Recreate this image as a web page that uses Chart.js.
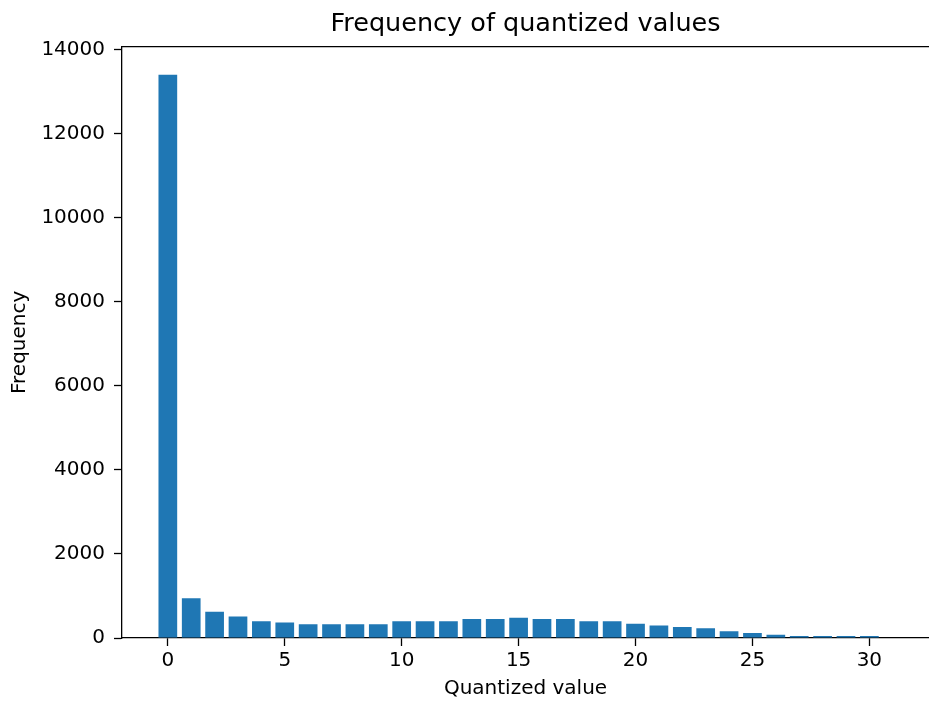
<!DOCTYPE html>
<html>
<head>
<meta charset="utf-8">
<script src="https://cdn.jsdelivr.net/npm/chart.js@4"></script>
<style>
  html, body { margin: 0; padding: 0; background: #fff; }
  #wrap { width: 929px; height: 702px; }
</style>
</head>
<body>
<div id="wrap"><canvas id="chart" width="929" height="702"></canvas></div>
<script>
// values
const quantizedValues = [0, 1, 2, 3, 4, 5, 6, 7, 8, 9, 10, 11, 12, 13, 14, 15,
  16, 17, 18, 19, 20, 21, 22, 23, 24, 25, 26, 27, 28, 29, 30];
const frequencies = [13400, 945, 625, 510, 400, 370, 330, 330, 330, 330, 400,
  400, 400, 450, 450, 480, 450, 450, 400, 400, 340, 300, 260, 230, 160, 120,
  80, 45, 45, 45, 45];
const xTickValues = [0, 5, 10, 15, 20, 25, 30];
const yTickValues = [0, 2000, 4000, 6000, 8000, 10000, 12000, 14000];

const FONT = "'DejaVu Sans', sans-serif";

// top spine; the right one is cut off in the reference
const topSpine = {
  id: "topSpine",
  afterDraw(chart) {
    const { ctx, chartArea: a } = chart;
    ctx.save();
    ctx.strokeStyle = "#000";
    ctx.lineWidth = 1.3;
    ctx.beginPath();
    ctx.moveTo(a.left, a.top);
    ctx.lineTo(a.right, a.top);
    ctx.stroke();
    ctx.restore();
  }
};

new Chart(document.getElementById("chart").getContext("2d"), {
  type: "bar",
  data: {
    datasets: [{
      data: quantizedValues.map((q, i) => ({ x: q, y: frequencies[i] })),
      backgroundColor: "#1f77b4",
      borderWidth: 0,
      barPercentage: 0.8,
      categoryPercentage: 1.0
    }]
  },
  options: {
    responsive: false,
    animation: false,
    layout: { padding: 0 },
    plugins: {
      legend: { display: false },
      tooltip: { enabled: false },
      title: {
        display: true,
        text: "Frequency of quantized values",
        fullSize: false,
        color: "#000",
        font: { family: FONT, size: 25.5, weight: "normal" },
        padding: { top: 9, bottom: 7 }
      }
    },
    scales: {
      x: {
        type: "linear",
        min: -1.96,
        max: 32.55,
        offset: false,
        afterFit: s => { s.height = 64; },
        afterBuildTicks: s => { s.ticks = xTickValues.map(v => ({ value: v })); },
        grid: { offset: false, drawOnChartArea: false, tickLength: 8, tickColor: "#000", tickWidth: 1.3 },
        border: { color: "#000", width: 1.3 },
        ticks: { color: "#000", font: { family: FONT, size: 20 }, padding: 3, maxRotation: 0,
          callback: v => String(v) },
        title: {
          display: true,
          text: "Quantized value",
          color: "#000",
          font: { family: FONT, size: 20 },
          padding: { top: 0, bottom: 1 }
        }
      },
      y: {
        min: 0,
        max: 14070,
        afterFit: s => { s.width = 122; },
        afterBuildTicks: s => { s.ticks = yTickValues.map(v => ({ value: v })); },
        grid: { drawOnChartArea: false, tickLength: 8, tickColor: "#000", tickWidth: 1.3 },
        border: { color: "#000", width: 1.3 },
        ticks: { color: "#000", font: { family: FONT, size: 20 }, padding: 9,
          callback: v => String(v) },
        title: {
          display: true,
          text: "Frequency",
          color: "#000",
          font: { family: FONT, size: 20 },
          padding: { top: 8, bottom: 0 }
        }
      }
    }
  },
  plugins: [topSpine]
});
</script>
</body>
</html>
